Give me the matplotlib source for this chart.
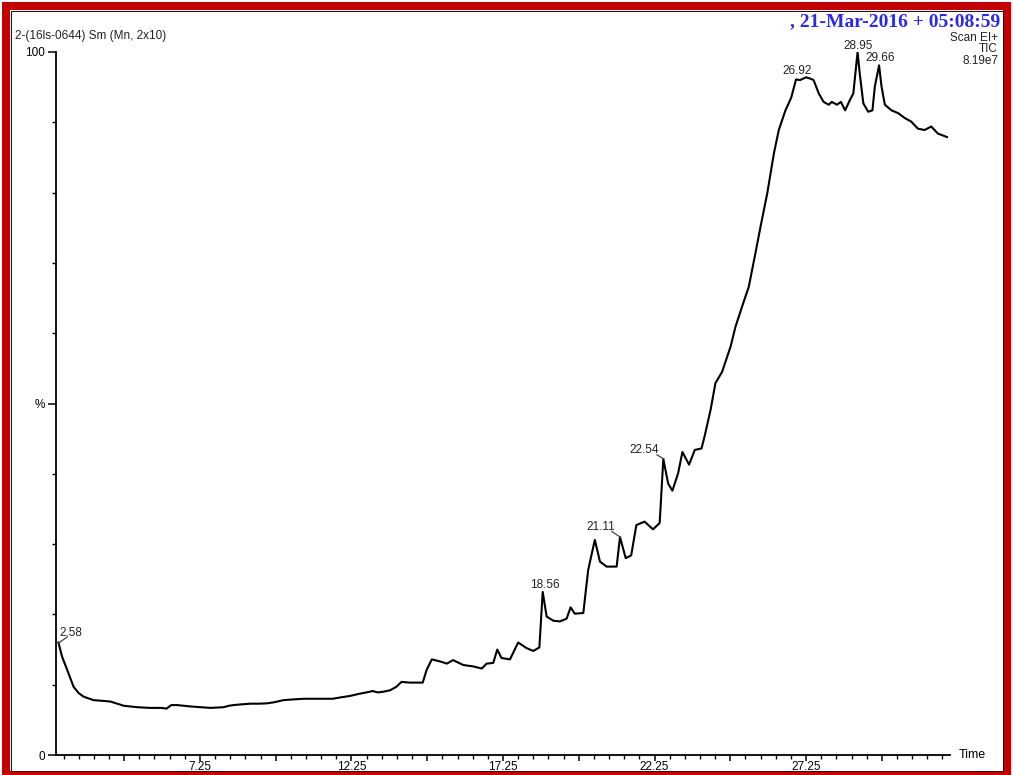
import matplotlib
matplotlib.use("Agg")
import matplotlib.pyplot as plt
from matplotlib.patches import Rectangle
from matplotlib.ticker import FixedLocator, FuncFormatter

# ---------------- data ----------------
times = [2.58, 2.70, 2.87, 3.08, 3.25, 3.41, 3.74, 4.05, 4.30, 4.74, 5.18, 5.6, 5.97, 6.15,
         6.3, 6.5, 6.95, 7.3, 7.6, 8.03, 8.2, 8.36, 8.6, 8.92, 9.2, 9.47, 9.7, 10.0, 10.3,
         10.68, 11.0, 11.3, 11.63, 11.9, 12.2, 12.5, 12.74, 12.95, 13.12, 13.3, 13.52, 13.73,
         13.9, 14.17, 14.4, 14.6, 14.73, 14.9, 15.18, 15.4, 15.6, 15.94, 16.27, 16.55, 16.71,
         16.93, 17.06, 17.2, 17.48, 17.75, 18.03, 18.25, 18.45, 18.56, 18.69, 18.91, 19.13,
         19.35, 19.48, 19.62, 19.9, 20.06, 20.28, 20.45, 20.67, 21.0, 21.11, 21.3, 21.48,
         21.65, 21.92, 22.2, 22.42, 22.5, 22.54, 22.7, 22.84, 23.03, 23.17, 23.39, 23.58,
         23.8, 23.9, 24.1, 24.26, 24.48, 24.76, 24.92, 25.14, 25.36, 25.58, 25.75, 25.97,
         26.19, 26.35, 26.57, 26.76, 26.92, 27.05, 27.25, 27.4, 27.5, 27.67, 27.83, 28.0,
         28.1, 28.27, 28.4, 28.54, 28.7, 28.81, 28.95, 29.02, 29.14, 29.3, 29.44, 29.52,
         29.66, 29.74, 29.85, 30.07, 30.29, 30.51, 30.72, 30.94, 31.16, 31.38, 31.6, 31.9]
intensity = [16.0, 14.0, 12.1, 9.7, 8.8, 8.3, 7.8, 7.7, 7.6, 7.0, 6.8, 6.7, 6.7, 6.6,
             7.1, 7.1, 6.9, 6.8, 6.7, 6.8, 7.0, 7.1, 7.2, 7.3, 7.3, 7.35, 7.5, 7.8, 7.9,
             8.0, 8.0, 8.0, 8.0, 8.2, 8.4, 8.7, 8.9, 9.1, 8.9, 9.0, 9.2, 9.7,
             10.4, 10.3, 10.3, 10.3, 12.1, 13.6, 13.3, 13.0, 13.5, 12.8, 12.6, 12.3, 13.0,
             13.1, 15.0, 13.8, 13.6, 16.0, 15.2, 14.8, 15.3, 23.2, 19.7, 19.1, 19.0,
             19.4, 21.0, 20.1, 20.2, 26.3, 30.6, 27.5, 26.8, 26.8, 31.0, 28.0, 28.4,
             32.7, 33.2, 32.1, 33.0, 39.1, 42.1, 38.6, 37.6, 40.1, 43.1, 41.3, 43.4,
             43.6, 45.3, 49.1, 52.9, 54.5, 58.1, 60.9, 63.8, 66.6, 71.4, 75.2, 79.9,
             85.6, 88.9, 91.7, 93.5, 96.1, 96.0, 96.4, 96.2, 96.0, 94.1, 92.9, 92.5,
             92.9, 92.5, 92.9, 91.7, 93.2, 94.1, 100.0, 97.0, 92.7, 91.5, 91.7, 95.1,
             98.1, 95.1, 92.5, 91.7, 91.3, 90.6, 90.1, 89.1, 88.9, 89.4, 88.4, 87.9]

peak_labels = ["2.58", "18.56", "21.11", "22.54", "26.92", "28.95", "29.66"]
peak_times = [2.58, 18.56, 21.11, 22.54, 26.92, 28.95, 29.66]

x_tick_values = [7.25, 12.25, 17.25, 22.25, 27.25]
x_tick_labels = ["7.25", "12.25", "17.25", "22.25", "27.25"]
y_tick_values = [0, 50, 100]
y_tick_labels = ["0", "%", "100"]

header_left = "2-(16ls-0644) Sm (Mn, 2x10)"
header_right = ", 21-Mar-2016 + 05:08:59"
info_lines = ["Scan EI+", "TIC", "8.19e7"]

# ---------------- figure ----------------
plt.rcParams['font.family'] = ['Liberation Sans', 'DejaVu Sans']
W, H = 1013, 775
fig = plt.figure(figsize=(W / 100, H / 100), dpi=100)
fig.patch.set_facecolor('white')

ax = fig.add_axes([56 / W, 1 - 755 / H, (950 - 56) / W, (755 - 52) / H])
ax.plot(times, intensity, color='black', lw=1.5, solid_joinstyle='round')
ax.set_xlim(2.5, 32.0)
ax.set_ylim(0, 100)
ax.patch.set_alpha(0)

for s in ['top', 'right']:
    ax.spines[s].set_visible(False)
for s in ['left', 'bottom']:
    ax.spines[s].set_linewidth(1.3)
    ax.spines[s].set_color('black')

# x ticks
major_x = [2.25 + 2.5 * k for k in range(1, 13)]
ax.xaxis.set_major_locator(FixedLocator(major_x))
lab_map = dict(zip(x_tick_values, x_tick_labels))
ax.xaxis.set_major_formatter(FuncFormatter(
    lambda v, p: next((l for t, l in lab_map.items() if abs(t - v) < 1e-6), "")))
minor_x = [2.75 + 0.5 * k for k in range(0, 59)]
ax.xaxis.set_minor_locator(FixedLocator(minor_x))
ax.tick_params(axis='x', which='major', length=4.5, width=1.1, direction='out',
               labelsize=8.5, pad=0, colors='black')
ax.tick_params(axis='x', which='minor', length=3, width=1.0, direction='out')

# y ticks
ax.yaxis.set_major_locator(FixedLocator(y_tick_values))
ax.set_yticklabels(y_tick_labels)
ax.yaxis.set_minor_locator(FixedLocator([10, 20, 30, 40, 60, 70, 80, 90]))
ax.tick_params(axis='y', which='major', length=6, width=1.1, direction='out',
               labelsize=8.5, pad=2, colors='black')
ax.tick_params(axis='y', which='minor', length=3, width=1.0, direction='out')

# peak annotations
lab_pos = {
    "2.58": (2.62, 16.9, 'left'),
    "18.56": (18.62, 23.75, 'center'),
    "21.11": (20.49, 32.0, 'center'),
    "22.54": (21.92, 43.0, 'center'),
    "26.92": (26.96, 96.8, 'center'),
    "28.95": (28.97, 100.4, 'center'),
    "29.66": (29.69, 98.7, 'center'),
}
leaders = {
    "2.58": ((2.58, 15.9), (2.87, 16.8)),
    "21.11": ((20.84, 31.8), (21.13, 30.96)),
    "22.54": ((22.33, 42.7), (22.56, 42.1)),
}
for lab, t in zip(peak_labels, peak_times):
    x, y, ha = lab_pos[lab]
    ax.text(x, y, lab, fontsize=8.5, ha=ha, va='baseline', color='#222222',
            clip_on=False)
    if lab in leaders:
        (x0, y0), (x1, y1) = leaders[lab]
        ax.plot([x0, x1], [y0, y1], color='#444444', lw=0.9, clip_on=False)

ax.text(1.01, 0.0, "Time", transform=ax.transAxes, fontsize=9, ha='left',
        va='center', color='black')

# header texts
fig.text(15 / W, 1 - 36 / H, header_left, fontsize=8.5, ha='left', va='center',
         color='#222222')
fig.text(1000 / W, 1 - 22 / H, header_right, fontsize=14, ha='right', va='center',
         color='#2a2aee', fontweight='bold', family=['Liberation Serif', 'DejaVu Serif'])
for i, line in enumerate(info_lines):
    fig.text(998 / W, 1 - (38 + 11.5 * i) / H, line, fontsize=8.5, ha='right',
             va='center', color='#222222')

# red frame (four bands) + thin inner line
red = '#c40000'
bands = [(2, 2, 1009, 8),      # top  (x, y_from_top, width, height) in px
         (2, 2, 8, 771),       # left
         (1003, 2, 8, 771),    # right
         (2, 771, 1009, 4)]    # bottom
for bx, by, bw, bh in bands:
    fig.patches.append(Rectangle((bx / W, 1 - (by + bh) / H), bw / W, bh / H,
                                 transform=fig.transFigure, facecolor=red,
                                 edgecolor='none', zorder=10))
fig.patches.append(Rectangle((10.5 / W, 1 - 770.5 / H), 992 / W, 760 / H,
                             transform=fig.transFigure, fill=False,
                             edgecolor='#3a0000', lw=0.7, zorder=11))

fig.savefig("out.png", dpi=100, facecolor='white')
